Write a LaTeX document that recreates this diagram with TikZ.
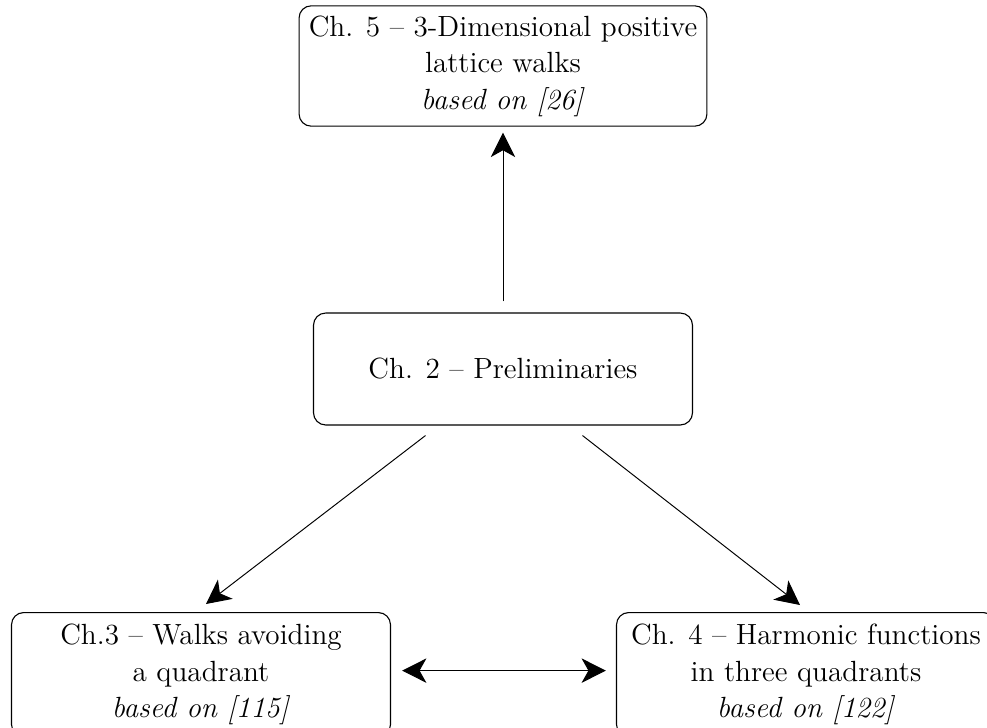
\documentclass[12pt,tikz,border=0pt]{standalone}
\usetikzlibrary{arrows.meta}
\tikzset{
  chapter/.style={draw, rounded corners=5pt, align=center, inner sep=4pt,
    font=\fontsize{12pt}{15pt}\selectfont, line width=0.45pt},
  wide/.style={minimum width=155.7pt},
  tall/.style={minimum height=51pt, anchor=north},
  link/.style={line width=0.4pt, -{Stealth[length=10pt,width=10pt,inset=2.8pt]}},
  twolink/.style={line width=0.4pt, {Stealth[length=10pt,width=10pt,inset=2.8pt]}-{Stealth[length=10pt,width=10pt,inset=2.8pt]}}
}
\begin{document}
\begin{tikzpicture}[x=0.41085pt, y=-0.41085pt]
\useasboundingbox (0,0) rectangle (987,727);
\node[chapter] (top) at (503,66) {Ch. 5 \textendash{} 3-Dimensional positive\\ lattice walks\\ \textit{based on [26]}};
\node[chapter, wide, minimum height=46pt] (mid) at (503,369) {Ch. 2 \textendash{} Preliminaries};
\node[chapter, wide, tall] (left) at (201,612) {Ch.3 \textendash{} Walks avoiding\\ a quadrant\\ \textit{based on [115]}};
\node[chapter, wide, tall] (right) at (806,612) {Ch. 4 \textendash{} Harmonic functions\\ in three quadrants\\ \textit{based on [122]}};
\draw[link] ([shift={(0,-11)}]mid.north) -- ([shift={(0,6)}]top.south);
\draw[link] ([shift={(-77.5,10)}]mid.south) -- ([shift={(5,-8)}]left.north);
\draw[link] ([shift={(79.5,10)}]mid.south) -- ([shift={(-6,-7)}]right.north);
\draw[twolink] ([shift={(11,-4)}]left.east) -- ([shift={(-10,-4)}]right.west);
\end{tikzpicture}
\end{document}
